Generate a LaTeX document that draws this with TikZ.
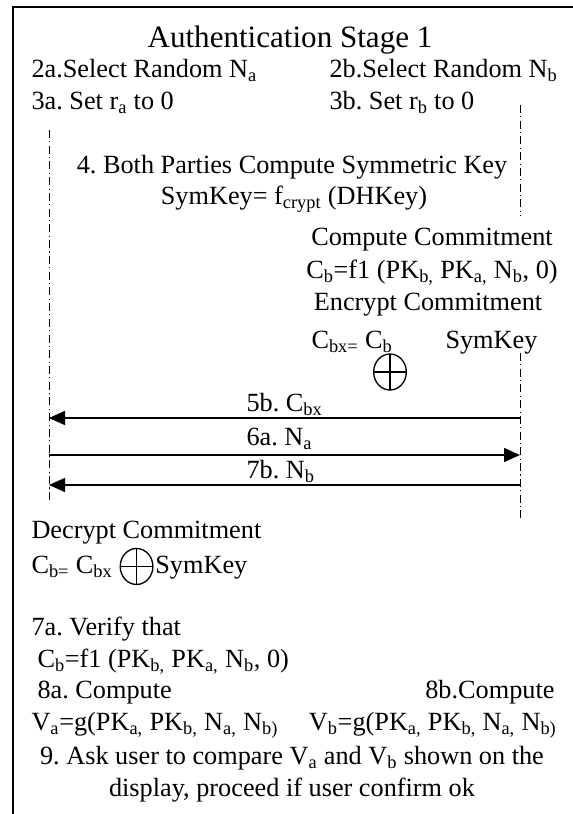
\documentclass[tikz,border=0pt]{standalone}
\usepackage{fontspec}
\setmainfont{Liberation Serif}
\usetikzlibrary{arrows.meta,positioning,shapes.geometric}

\newcommand{\lo}[1]{\textsubscript{#1}}
\frenchspacing

\tikzset{every picture/.style={line width=0.75pt}}
\tikzset{
	txt/.style={anchor=base west, inner sep=0pt, font=\fontsize{19.7}{23}\selectfont},
	ctxt/.style={txt, anchor=base},
	rtxt/.style={txt, anchor=base east},
	ttl/.style={txt, anchor=base, font=\fontsize{23.3}{28}\selectfont},
	life/.style={line width=0.75pt, dash pattern={on 6pt off 2.5pt on 0.8pt off 2.5pt}},
	msg/.style={line width=1.1pt, -{Triangle[length=12pt,width=10.5pt]}},
	frame/.style={line width=1.2pt},
	xorop/.style={ellipse, draw, line width=1pt, minimum width=24.5pt, minimum height=27pt, inner sep=0pt,
		path picture={\draw[line width=1pt] (path picture bounding box.north) -- (path picture bounding box.south)
			(path picture bounding box.west) -- (path picture bounding box.east);}}
}

\begin{document}
\begin{tikzpicture}[x=0.75pt,y=0.75pt,yscale=-1,xscale=1]
		\useasboundingbox (0,0) rectangle (573,814);
		
		%Frame
		\draw [frame] (573,7) -- (13,7) -- (13,814) ;
		
		%Lifelines
		\coordinate (lA1) at (49,130);
		\coordinate (lA2) at (49,502);
		\coordinate (lB1) at (520,105);
		\coordinate (lB2) at (520,216);
		\coordinate (lB3) at (520,353);
		\coordinate (lB4) at (520,519);
		\draw [life] (lA1) -- (lA2) ;
		\draw [life] (lB1) -- (lB2) ;
		\draw [life] (lB3) -- (lB4) ;
		
		% Title and set up
		\node [ttl] (title) at (290,47) {Authentication Stage 1};
		\node [txt] (sa2) at (31,77) {2a.Select Random N\lo{a}};
		\node [txt] (sb2) at (329,77) {2b.Select Random N\lo{b}};
		\node [txt] (sa3) at (31,109) {3a. Set r\lo{a} to 0};
		\node [txt] (sb3) at (329,109) {3b. Set r\lo{b} to 0};
		
		% Symmetric key
		\node [ctxt] (s4) at (292,173) {4. Both Parties Compute Symmetric Key};
		\node [ctxt] (symkey) at (294,204) {SymKey= f\lo{crypt} (DHKey)};
		
		% Commitment on side b
		\node [ctxt] (cmt1) at (432,245) {Compute Commitment};
		\node [ctxt] (cmt2) at (432,278) {C\lo{b}=f1 (PK\lo{b,} PK\lo{a,} N\lo{b}, 0)};
		\node [ctxt] (enc1) at (428,310) {Encrypt Commitment};
		\node [txt] (enc2) at (311,348) {C\lo{bx=} C\lo{b}};
		\node [txt] (enc3) at (445,348) {SymKey};
		\node [xorop] (xor1) at (390,372) {};
		
		% Messages
		\coordinate (a5) at (49,418);
		\coordinate (b5) at (520,418);
		\coordinate (a6) at (49,455);
		\coordinate (b6) at (520,455);
		\coordinate (a7) at (49,485);
		\coordinate (b7) at (520,485);
		\draw [msg] (b5) -- (a5) ;
		\draw [msg] (a6) -- (b6) ;
		\draw [msg] (b7) -- (a7) ;
		\node [txt] (m5) at (246,411) {5b. C\lo{bx}};
		\node [txt] (m6) at (246,445) {6a. N\lo{a}};
		\node [txt] (m7) at (246,478) {7b. N\lo{b}};
		
		% Decrypt on side a
		\node [txt] (dec1) at (31,538) {Decrypt Commitment};
		\node [txt] (dec2) at (31,573) {C\lo{b=} C\lo{bx}};
		\node [xorop, right=5pt of dec2] (xor2) {};
		\node [txt, right=1pt of xor2.east |- dec2.base, anchor=base west] (dec3) {SymKey};
		
		% Verify and compare
		\node [txt] (ver1) at (31,635) {7a. Verify that};
		\node [txt] (ver2) at (37,667) {C\lo{b}=f1 (PK\lo{b,} PK\lo{a,} N\lo{b}, 0)};
		\node [txt] (va1) at (37,698) {8a. Compute};
		\node [rtxt] (vb1) at (555,698) {8b.Compute};
		\node [txt] (va2) at (31,730) {V\lo{a}=g(PK\lo{a,} PK\lo{b,} N\lo{a,} N\lo{b)}};
		\node [rtxt] (vb2) at (557,730) {V\lo{b}=g(PK\lo{a,} PK\lo{b,} N\lo{a,} N\lo{b)}};
		\node [ctxt] (ask1) at (292,764) {9. Ask user to compare V\lo{a} and V\lo{b} shown on the};
		\node [ctxt] (ask2) at (292,796) {display, proceed if user confirm ok};
		
\end{tikzpicture}
\end{document}
